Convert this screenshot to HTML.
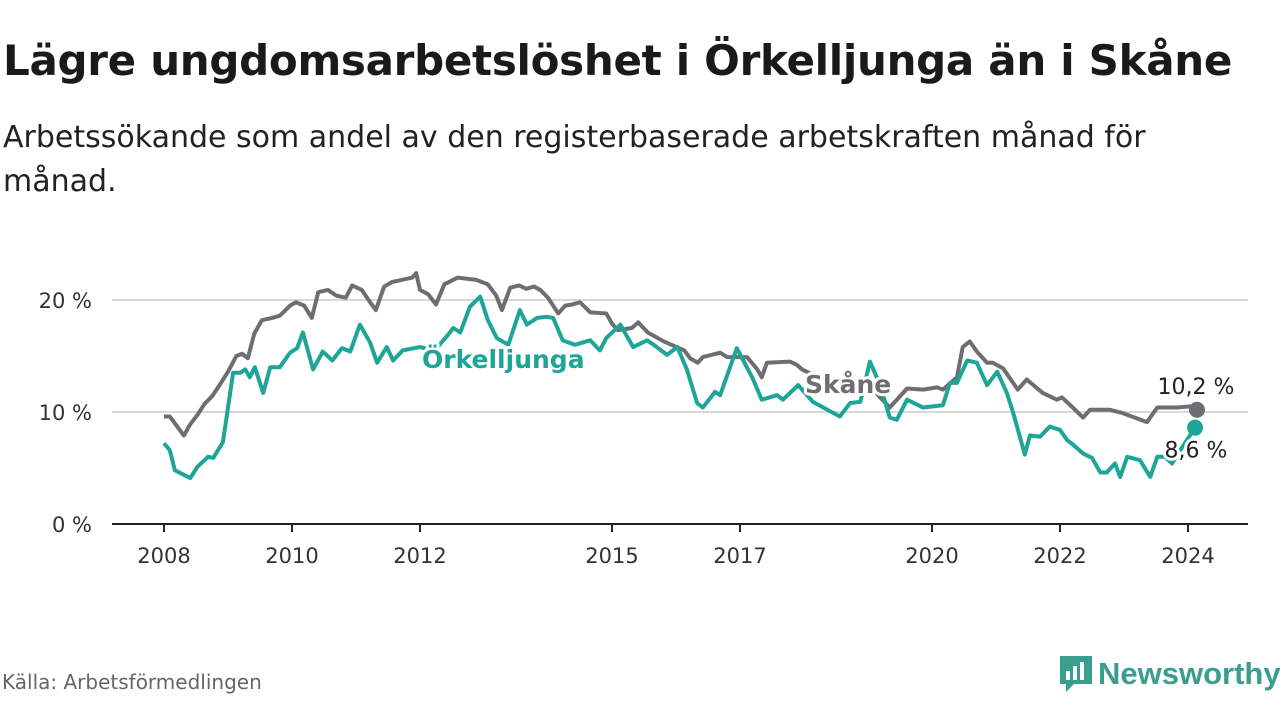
<!DOCTYPE html>
<html><head><meta charset="utf-8"><style>
body{margin:0;width:1280px;height:720px;background:#fff;font-family:"DejaVu Sans","Liberation Sans",sans-serif;overflow:hidden;position:relative}
.t{position:absolute;left:3px;top:36px;font-size:42px;font-weight:bold;color:#1a1a1a;margin:0;letter-spacing:-0.3px;white-space:nowrap}
.s{position:absolute;left:3px;top:116px;font-size:30px;color:#222;line-height:44px;width:1200px}
.src{position:absolute;left:2px;top:670px;font-size:20px;color:#666}
</style></head><body>
<h1 class="t">Lägre ungdomsarbetslöshet i Örkelljunga än i Skåne</h1>
<div class="s">Arbetssökande som andel av den registerbaserade arbetskraften månad för månad.</div>
<svg id="c" width="1280" height="720" style="position:absolute;left:0;top:0"></svg>
<div class="src">Källa: Arbetsförmedlingen</div>
<div style="position:absolute;left:1058px;top:654px;display:flex;align-items:center">
<svg width="36" height="40" viewBox="0 0 36 40"><path d="M2 2h32v28H16l-8 8v-8H2z" fill="#3a9e8f"/><rect x="8" y="17" width="4" height="9" fill="#fff"/><rect x="15" y="12" width="4" height="14" fill="#fff"/><rect x="22" y="8" width="4" height="18" fill="#fff"/></svg>
<span style="font-size:31px;font-weight:bold;color:#3a9e8f;margin-left:4px;font-family:'Liberation Sans',sans-serif">Newsworthy</span></div>
<script>
const yTicks=[0,10,20];
const yTickLabels=["0 %","10 %","20 %"];
const xTicks=[2008,2010,2012,2015,2017,2020,2022,2024];
const skaneDates=[2008.00,2008.09,2008.22,2008.31,2008.41,2008.53,2008.63,2008.75,2008.88,2009.00,2009.13,2009.22,2009.31,2009.41,2009.53,2009.69,2009.81,2009.97,2010.06,2010.19,2010.31,2010.41,2010.56,2010.69,2010.84,2010.94,2011.09,2011.22,2011.31,2011.44,2011.56,2011.88,2011.94,2012.00,2012.13,2012.25,2012.38,2012.59,2012.88,2013.06,2013.19,2013.28,2013.41,2013.55,2013.66,2013.78,2013.88,2014.00,2014.16,2014.27,2014.38,2014.50,2014.66,2014.91,2015.00,2015.09,2015.31,2015.41,2015.56,2015.81,2016.13,2016.22,2016.34,2016.42,2016.69,2016.80,2017.11,2017.27,2017.34,2017.42,2017.78,2017.89,2017.97,2018.25,2018.72,2019.03,2019.19,2019.34,2019.61,2019.86,2020.08,2020.17,2020.39,2020.48,2020.59,2020.70,2020.86,2020.95,2021.11,2021.34,2021.48,2021.73,2021.95,2022.03,2022.20,2022.36,2022.47,2022.78,2022.98,2023.36,2023.52,2023.83,2024.03,2024.14];
const skaneValues=[9.6,9.6,8.6,7.9,8.9,9.8,10.7,11.4,12.5,13.6,15.0,15.2,14.8,17.0,18.2,18.4,18.6,19.5,19.8,19.5,18.4,20.7,20.9,20.4,20.2,21.3,20.9,19.8,19.1,21.2,21.6,22.0,22.4,20.9,20.5,19.6,21.4,22.0,21.8,21.4,20.4,19.1,21.1,21.3,21.0,21.2,20.9,20.2,18.8,19.5,19.6,19.8,18.9,18.8,17.9,17.3,17.5,18.0,17.1,16.3,15.5,14.8,14.4,14.9,15.3,14.9,14.9,13.8,13.1,14.4,14.5,14.2,13.8,13.0,12.7,12.4,11.3,10.4,12.1,12.0,12.2,12.0,13.1,15.8,16.3,15.4,14.4,14.4,13.9,12.0,12.9,11.7,11.1,11.3,10.4,9.5,10.2,10.2,9.9,9.1,10.4,10.4,10.5,10.2];
const orkDates=[2008.00,2008.09,2008.17,2008.41,2008.52,2008.69,2008.77,2008.92,2009.08,2009.19,2009.27,2009.34,2009.42,2009.55,2009.66,2009.81,2009.97,2010.08,2010.17,2010.33,2010.48,2010.63,2010.78,2010.91,2011.06,2011.22,2011.33,2011.48,2011.58,2011.73,2012.00,2012.23,2012.44,2012.52,2012.63,2012.78,2012.94,2013.06,2013.20,2013.38,2013.56,2013.67,2013.83,2013.98,2014.08,2014.23,2014.42,2014.66,2014.81,2014.91,2015.13,2015.33,2015.55,2015.70,2015.86,2016.02,2016.17,2016.33,2016.42,2016.61,2016.69,2016.95,2017.19,2017.34,2017.58,2017.67,2017.91,2018.14,2018.30,2018.56,2018.72,2018.88,2019.03,2019.19,2019.34,2019.45,2019.61,2019.86,2020.17,2020.28,2020.39,2020.55,2020.70,2020.86,2021.02,2021.17,2021.27,2021.45,2021.53,2021.69,2021.84,2022.00,2022.11,2022.20,2022.36,2022.50,2022.63,2022.73,2022.86,2022.94,2023.05,2023.25,2023.41,2023.52,2023.64,2023.75,2023.88,2024.11];
const orkValues=[7.2,6.6,4.8,4.1,5.1,6.0,5.9,7.3,13.5,13.5,13.8,13.1,14.0,11.7,14.0,14.0,15.3,15.7,17.1,13.8,15.4,14.6,15.7,15.4,17.8,16.2,14.4,15.8,14.6,15.5,15.8,15.5,16.9,17.5,17.1,19.4,20.3,18.2,16.6,16.0,19.1,17.8,18.4,18.5,18.4,16.4,16.0,16.4,15.5,16.6,17.8,15.8,16.4,15.8,15.1,15.8,13.8,10.8,10.4,11.8,11.5,15.7,13.1,11.1,11.5,11.1,12.4,10.9,10.4,9.6,10.8,10.9,14.5,12.4,9.5,9.3,11.1,10.4,10.6,12.6,12.6,14.6,14.4,12.4,13.6,11.7,9.9,6.2,7.9,7.8,8.7,8.4,7.5,7.1,6.3,5.9,4.6,4.6,5.4,4.2,6.0,5.7,4.2,6.0,6.0,5.4,6.6,8.6];
const svg=document.getElementById('c'),NS='http://www.w3.org/2000/svg';
const X=v=>164+(v-2008)*64, Y=v=>524-v*11.2;
function el(t,a,txt){const e=document.createElementNS(NS,t);for(const k in a)e.setAttribute(k,a[k]);if(txt!==undefined)e.textContent=txt;svg.appendChild(e);return e;}
yTicks.forEach((v,i)=>{
 if(v>0){const g=el('line',{x1:112,x2:1248,y1:Y(v),y2:Y(v),stroke:'#d9d9d9','stroke-width':2});
 
 }
 const t=el('text',{x:92,y:Y(v)+8,'text-anchor':'end','font-size':21,fill:'#333'},yTickLabels[i]);
 
 
});
const ax=el('line',{x1:112,x2:1248,y1:524,y2:524,stroke:'#222','stroke-width':2});


xTicks.forEach(v=>{
 const tk=el('line',{x1:X(v),x2:X(v),y1:524,y2:532,stroke:'#222','stroke-width':2});
 
 
 const t=el('text',{x:X(v),y:563,'text-anchor':'middle','font-size':21,fill:'#333'},String(v));
 
 
});
function line(d,v,c,n){const p=el('polyline',{points:d.map((x,i)=>X(x)+','+Y(v[i])).join(' '),fill:'none',stroke:c,'stroke-width':4,'stroke-linejoin':'round'});
 
 }
line(skaneDates,skaneValues,'#6e6d72','skane-line');
line(orkDates,orkValues,'#1fa597','orkelljunga-line');
const halo={stroke:'#fff','stroke-width':6,'paint-order':'stroke','stroke-linejoin':'round'};
const l1=el('text',Object.assign({x:422,y:368,'font-size':25,'font-weight':'bold',fill:'#1fa597'},halo),'Örkelljunga');


const l2=el('text',Object.assign({x:805,y:393,'font-size':25,'font-weight':'bold',fill:'#6e6d72'},halo),'Skåne');


const sl=skaneValues.length-1, ol=orkValues.length-1;
const d1=el('circle',{cx:X(skaneDates[sl]),cy:Y(skaneValues[sl]),r:8,fill:'#6e6d72'});


const d2=el('circle',{cx:X(orkDates[ol]),cy:Y(orkValues[ol]),r:8,fill:'#1fa597'});


const v1=el('text',Object.assign({x:1196,y:Y(skaneValues[sl])-16,'text-anchor':'middle','font-size':22,fill:'#222'},halo),skaneValues[sl].toFixed(1).replace('.',',')+' %');


const v2=el('text',Object.assign({x:1196,y:Y(orkValues[ol])+30,'text-anchor':'middle','font-size':22,fill:'#222'},halo),orkValues[ol].toFixed(1).replace('.',',')+' %');


</script>
</body></html>
